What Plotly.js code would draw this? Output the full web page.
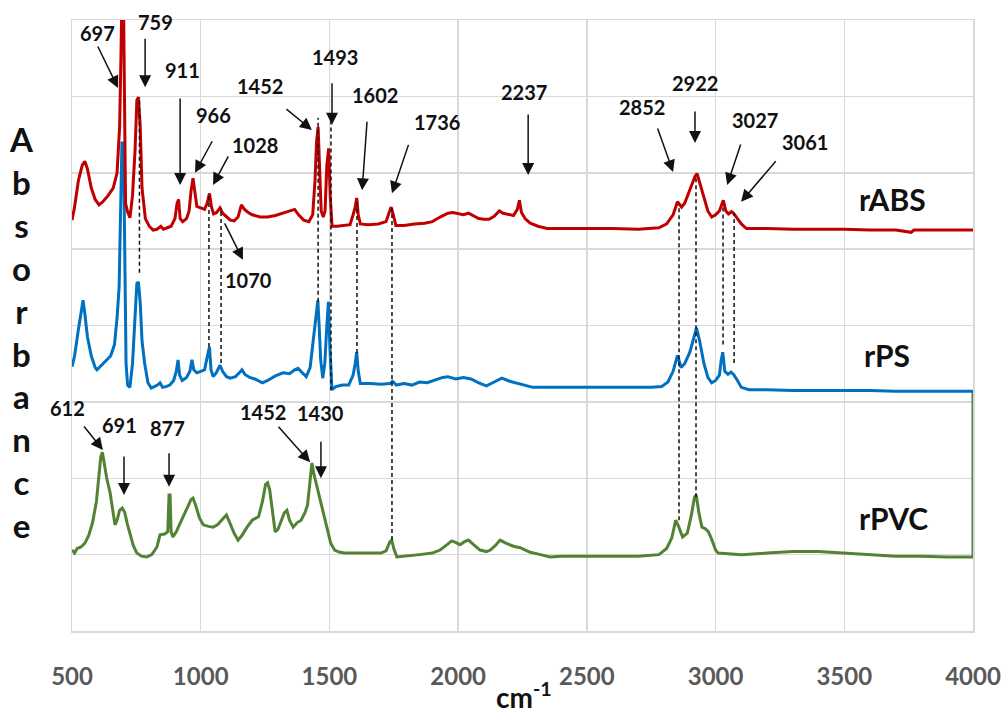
<!DOCTYPE html>
<html>
<head>
<meta charset="utf-8">
<script src="https://cdn.plot.ly/plotly-3.0.1.min.js"></script>
<style>html,body{margin:0;padding:0;background:#fff;}#chart{width:1008px;height:713px;}</style>
</head>
<body>
<div id="chart"></div>
<script>
// ---------------- DATA ----------------
const seriesNames = ['rABS', 'rPS', 'rPVC'];

const wnABS = [500,510,525,540,550,560,575,590,605,620,640,660,675,685,690,694,700,704,708,715,725,735,745,752,758,765,772,785,800,815,830,845,855,870,885,900,908,914,920,930,945,955,962,970,976,985,1000,1015,1025,1034,1042,1050,1062,1075,1085,1100,1115,1130,1145,1158,1170,1185,1200,1230,1260,1290,1320,1350,1365,1380,1400,1420,1435,1444,1450,1456,1461,1468,1476,1483,1490,1497,1503,1510,1530,1560,1580,1592,1600,1606,1612,1620,1650,1690,1720,1732,1740,1748,1758,1790,1830,1870,1900,1930,1960,1980,2000,2020,2040,2060,2080,2100,2120,2140,2160,2175,2195,2215,2230,2238,2246,2260,2280,2310,2345,2400,2500,2600,2700,2780,2810,2835,2852,2868,2880,2900,2920,2928,2940,2955,2970,2985,3000,3015,3030,3040,3050,3062,3070,3085,3100,3120,3200,3300,3400,3500,3600,3700,3760,3770,3800,3900,4000];
const absABS = [5.38,5.55,5.90,6.10,6.15,6.05,5.80,5.65,5.58,5.62,5.70,5.80,6.00,6.60,7.50,8.30,8.30,7.00,5.60,5.50,5.41,5.70,6.30,6.95,6.99,6.60,5.80,5.40,5.30,5.25,5.26,5.30,5.26,5.28,5.30,5.40,5.60,5.65,5.40,5.36,5.40,5.50,5.75,5.93,5.75,5.56,5.54,5.52,5.60,5.73,5.55,5.46,5.48,5.54,5.47,5.42,5.38,5.37,5.42,5.58,5.52,5.48,5.45,5.42,5.42,5.44,5.47,5.50,5.52,5.45,5.38,5.36,5.45,5.90,6.40,6.60,6.10,5.50,5.42,5.50,6.10,6.32,5.70,5.30,5.30,5.31,5.32,5.45,5.55,5.67,5.45,5.33,5.32,5.33,5.36,5.48,5.55,5.45,5.31,5.31,5.33,5.34,5.36,5.42,5.47,5.48,5.46,5.45,5.47,5.44,5.40,5.39,5.39,5.43,5.50,5.47,5.45,5.44,5.52,5.64,5.48,5.40,5.34,5.30,5.27,5.27,5.27,5.27,5.26,5.28,5.33,5.45,5.62,5.55,5.60,5.78,5.95,5.99,5.85,5.65,5.50,5.42,5.45,5.50,5.64,5.50,5.46,5.49,5.47,5.40,5.33,5.27,5.27,5.26,5.26,5.26,5.25,5.25,5.22,5.25,5.25,5.25,5.25];

const wnPS = [500,510,525,537,543,550,560,575,590,597,615,635,650,665,675,683,690,694,700,704,710,716,725,735,745,752,758,765,772,782,795,808,820,832,842,852,865,880,895,905,912,918,928,945,958,966,973,985,1000,1015,1026,1034,1040,1048,1060,1075,1085,1100,1115,1135,1150,1160,1172,1190,1210,1240,1260,1290,1320,1345,1365,1378,1395,1410,1425,1438,1448,1455,1460,1466,1474,1482,1490,1496,1502,1510,1525,1550,1575,1592,1600,1606,1612,1620,1660,1700,1735,1745,1760,1790,1820,1850,1880,1910,1940,1960,1990,2020,2050,2080,2110,2140,2170,2200,2240,2290,2350,2450,2550,2650,2750,2790,2815,2835,2852,2866,2880,2900,2915,2926,2938,2955,2970,2985,3000,3015,3022,3028,3036,3048,3060,3070,3085,3100,3130,3200,3300,3400,3500,3600,3700,3800,3900,4000];
const absPS = [3.46,3.60,3.95,4.25,4.33,4.15,3.85,3.60,3.45,3.42,3.48,3.55,3.60,3.75,4.10,4.50,5.60,6.39,6.39,5.00,3.50,3.22,3.19,3.50,4.20,4.55,4.57,4.30,3.80,3.51,3.25,3.18,3.20,3.22,3.25,3.19,3.20,3.22,3.28,3.40,3.55,3.35,3.28,3.32,3.40,3.55,3.42,3.38,3.40,3.42,3.60,3.72,3.42,3.33,3.38,3.48,3.40,3.33,3.31,3.33,3.38,3.42,3.36,3.32,3.30,3.25,3.28,3.34,3.38,3.37,3.42,3.44,3.38,3.33,3.45,3.85,4.20,4.33,4.00,3.55,3.31,3.50,4.00,4.31,3.70,3.16,3.20,3.22,3.22,3.35,3.50,3.65,3.40,3.24,3.24,3.23,3.24,3.27,3.22,3.24,3.22,3.26,3.25,3.29,3.32,3.33,3.30,3.32,3.30,3.25,3.21,3.26,3.31,3.27,3.23,3.19,3.19,3.19,3.19,3.19,3.19,3.20,3.26,3.40,3.61,3.45,3.50,3.65,3.85,3.97,3.80,3.50,3.32,3.25,3.28,3.35,3.55,3.65,3.40,3.36,3.39,3.36,3.28,3.19,3.16,3.16,3.15,3.15,3.15,3.15,3.14,3.14,3.14,3.14];

const wnPVC = [500,510,520,535,550,565,580,595,605,612,618,625,635,648,658,667,675,685,695,705,715,725,738,752,770,790,810,830,842,860,872,877,881,885,892,905,920,935,950,962,970,980,995,1010,1030,1048,1065,1085,1100,1115,1130,1145,1160,1180,1200,1225,1240,1252,1260,1268,1278,1289,1300,1315,1325,1335,1345,1359,1375,1390,1405,1415,1425,1432,1440,1452,1462,1475,1490,1505,1520,1540,1560,1600,1650,1700,1720,1735,1742,1750,1762,1800,1850,1900,1930,1957,1975,1990,2007,2025,2040,2060,2085,2110,2125,2145,2163,2185,2215,2241,2280,2320,2357,2400,2500,2600,2700,2780,2810,2830,2845,2855,2872,2890,2905,2918,2925,2935,2947,2960,2972,2985,3000,3010,3100,3200,3300,3400,3500,3600,3700,3800,3900,4000,4000];
const absPVC = [1.06,1.02,1.08,1.10,1.15,1.25,1.42,1.70,2.05,2.28,2.34,2.20,2.00,1.81,1.60,1.39,1.45,1.58,1.61,1.55,1.40,1.28,1.12,1.02,0.98,0.97,1.00,1.10,1.26,1.27,1.30,1.78,1.78,1.30,1.23,1.30,1.42,1.52,1.63,1.72,1.74,1.65,1.48,1.39,1.37,1.36,1.39,1.46,1.52,1.40,1.28,1.19,1.25,1.36,1.45,1.50,1.70,1.92,1.94,1.85,1.55,1.30,1.33,1.45,1.55,1.58,1.45,1.36,1.42,1.45,1.55,1.65,2.00,2.20,2.05,1.88,1.75,1.56,1.35,1.15,1.06,1.03,1.02,1.02,1.02,1.02,1.05,1.17,1.19,1.08,0.97,0.98,1.00,1.02,1.06,1.13,1.18,1.16,1.13,1.17,1.19,1.13,1.06,1.04,1.06,1.12,1.19,1.15,1.11,1.09,1.03,1.00,0.97,0.98,0.98,0.98,0.98,1.00,1.08,1.22,1.45,1.38,1.23,1.28,1.50,1.75,1.78,1.55,1.36,1.34,1.30,1.20,1.06,1.02,1.00,1.02,1.04,1.04,1.02,1.00,0.98,0.98,0.97,0.97,3.14];

const xTickVals = [500,1000,1500,2000,2500,3000,3500,4000];
const xTickText = ['500','1000','1500','2000','2500','3000','3500','4000'];
const xTitle = 'cm<sup>-1</sup>';
const yTitle = 'Absorbance';

// peak labels (text) for rABS/rPS and rPVC
const peakLabelsTop = ['697','759','911','966','1028','1070','1452','1493','1602','1736','2237','2852','2922','3027','3061'];
const peakLabelsPVC = ['612','691','877','1452','1430'];

// ---------------- LAYOUT HELPERS (positions / styles) ----------------
// label position (px in figure), arrow head [x,y] in data units, arrow tail offset in px [ax,ay]
const PX0 = 72, PW = 901, PY0 = 631, PH = 611;
function pxToPaper(px, py) { return [(px - PX0) / PW, (PY0 - py) / PH]; }
const topPos = [
  [97,33, 679,7.11, -21,-43],
  [155,22, 784,7.12, 0,-50],
  [182,70, 920,5.84, 0,-88],
  [213,115, 978,6.00, 18,-33],
  [255,145, 1048,5.84, 16,-30],
  [248,280, 1164,4.86, -19,-38],
  [260,86, 1432,6.56, -27,-22],
  [335,57, 1510,6.63, 0,-43],
  [375,95, 1627,5.77, 5,-70],
  [437,122, 1743,5.73, 17,-50],
  [524,92, 2272,5.97, 0,-62],
  [642,107, 2835,6.01, -16,-45],
  [695,83, 2920,6.39, 0,-33],
  [755,120, 3045,5.84, 14,-42],
  [805,142, 3099,5.62, 36,-42]
];
const pvcPos = [
  [67,408, 620,2.37, -20,-25],
  [119,425, 702,1.78, 0,-40],
  [167,428, 877,1.89, 0,-35],
  [263,412, 1425,2.21, -33,-37],
  [320,413, 1467,2.00, 0,-38]
];
// dashed guide lines [x, yBottom, yTop]
const guides = [
  [762,4.69,6.99],[1032,3.72,5.71],[1079,3.51,5.54],[1456,4.31,6.72],[1506,3.15,6.73],
  [1607,3.64,5.64],[1743,1.19,5.54],[2858,1.45,5.58],[2924,1.75,5.97],[3029,3.75,5.58],[3072,3.51,5.47]
];

const FONT = 'Lato, "Open Sans", sans-serif';
const colors = ['#C00000', '#0070C0', '#548235'];

const traces = [
  {x: wnPVC, y: absPVC, name: seriesNames[2], mode: 'lines', line: {color: colors[2], width: 3}},
  {x: wnPS, y: absPS, name: seriesNames[1], mode: 'lines', line: {color: colors[1], width: 3}},
  {x: wnABS, y: absABS, name: seriesNames[0], mode: 'lines', line: {color: colors[0], width: 3}}
];

const annotations = [];
function addPeak(label, p, size) {
  const pp = pxToPaper(p[0], p[1]);
  annotations.push({x: pp[0], y: pp[1], xref: 'paper', yref: 'paper', xanchor: 'center', yanchor: 'middle',
    text: label, showarrow: false,
    font: {family: FONT, size: size, color: '#111', weight: 'bold'}});
  annotations.push({x: p[2], y: p[3], xref: 'x', yref: 'y', text: '', showarrow: true,
    ax: p[4], ay: p[5], arrowhead: 2, arrowsize: 1.6, arrowwidth: 1.5, arrowcolor: '#111', standoff: 0});
}
peakLabelsTop.forEach((t, i) => addPeak(t, topPos[i], 20));
peakLabelsPVC.forEach((t, i) => addPeak(t, pvcPos[i], 20));

// series labels
const seriesLabelPos = [[892, 199], [887, 355], [893, 518]];
seriesNames.forEach((n, i) => {
  const pp = pxToPaper(seriesLabelPos[i][0], seriesLabelPos[i][1]);
  annotations.push({x: pp[0], y: pp[1], xref: 'paper', yref: 'paper', xanchor: 'center', yanchor: 'middle',
    text: n, showarrow: false, font: {family: FONT, size: 30, color: '#111', weight: 'bold'}});
});

// vertical stacked y label
annotations.push({x: -0.0555, y: 0.49, xref: 'paper', yref: 'paper', xanchor: 'center', yanchor: 'middle',
  text: yTitle.split('').join('<br>'), showarrow: false, align: 'center',
  font: {family: FONT, size: 33, color: '#111', weight: 'bold'}});

// x axis title (cm-1)
const xt = pxToPaper(524, 695);
annotations.push({x: xt[0], y: xt[1], xref: 'paper', yref: 'paper', xanchor: 'center', yanchor: 'middle',
  text: xTitle, showarrow: false, font: {family: FONT, size: 28, color: '#111', weight: 'bold'}});

const shapes = guides.map(g => ({type: 'line', xref: 'x', yref: 'y', x0: g[0], x1: g[0], y0: g[1], y1: g[2],
  line: {color: '#111', width: 1.5, dash: '4px,3px'}}));

const layout = {
  width: 1008, height: 713,
  margin: {l: 72, r: 35, t: 20, b: 82},
  paper_bgcolor: '#fff', plot_bgcolor: '#fff',
  showlegend: false,
  xaxis: {
    range: [500, 4000], tickvals: xTickVals, ticktext: xTickText,
    ticks: 'outside', ticklen: 24, tickcolor: 'rgba(0,0,0,0)',
    showgrid: true, gridcolor: '#d9d9d9', gridwidth: 1.5, zeroline: false,
    showline: true, linecolor: '#d9d9d9', linewidth: 1.5, mirror: true,
    tickfont: {family: FONT, size: 24, color: '#595959', weight: 'bold'},
    title: {text: ''}
  },
  yaxis: {
    range: [0, 8], dtick: 1, showticklabels: false, ticks: '',
    showgrid: true, gridcolor: '#d9d9d9', gridwidth: 1.5, zeroline: false,
    showline: true, linecolor: '#d9d9d9', linewidth: 1.5, mirror: true,
    title: {text: ''}
  },
  annotations: annotations,
  shapes: shapes
};

Plotly.newPlot('chart', traces, layout, {displayModeBar: false, staticPlot: true});
</script>
</body>
</html>
